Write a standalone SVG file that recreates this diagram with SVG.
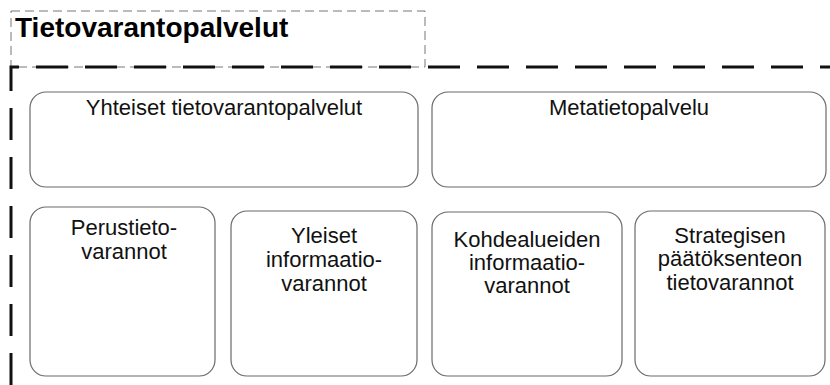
<svg xmlns="http://www.w3.org/2000/svg" width="830" height="385" viewBox="0 0 830 385">
<style>
.box{fill:#fff;stroke:#6a6a6a;stroke-width:1.2}
.t{font-family:"Liberation Sans",Arial,sans-serif;font-size:22px;fill:#111;text-anchor:middle}
.title{font-family:"Liberation Sans",Arial,sans-serif;font-size:28px;font-weight:bold;fill:#000}
</style>
<rect width="830" height="385" fill="#fff"/>
<g id="title">
<rect x="11" y="11" width="414" height="56" fill="none" stroke="#777" stroke-width="1" stroke-dasharray="9,5"/>
<text class="title" x="15" y="37">Tietovarantopalvelut</text>
</g>
<g id="boundary">
<polyline points="11,385 11,67 830,67" fill="none" stroke="#111" stroke-width="3" stroke-dasharray="32,17"/>
</g>
<g id="yhteiset">
<rect class="box" x="30" y="92" width="388" height="95" rx="16"/>
<text class="t" x="224" y="115">Yhteiset tietovarantopalvelut</text>
</g>
<g id="metatieto">
<rect class="box" x="432" y="92" width="394" height="95" rx="16"/>
<text class="t" x="629" y="115">Metatietopalvelu</text>
</g>
<g id="perustieto">
<rect class="box" x="30" y="207" width="185" height="169" rx="16"/>
<text class="t" x="124" y="235">Perustieto-</text>
<text class="t" x="124" y="259">varannot</text>
</g>
<g id="yleiset">
<rect class="box" x="231" y="211" width="186" height="165" rx="16"/>
<text class="t" x="324" y="243">Yleiset</text>
<text class="t" x="324" y="267">informaatio-</text>
<text class="t" x="324" y="291">varannot</text>
</g>
<g id="kohde">
<rect class="box" x="432" y="212" width="190" height="164" rx="16"/>
<text class="t" x="527" y="247">Kohdealueiden</text>
<text class="t" x="527" y="270">informaatio-</text>
<text class="t" x="527" y="293">varannot</text>
</g>
<g id="strategisen">
<rect class="box" x="635" y="211" width="190" height="165" rx="16"/>
<text class="t" x="730" y="243">Strategisen</text>
<text class="t" x="730" y="266">päätöksenteon</text>
<text class="t" x="730" y="290">tietovarannot</text>
</g>
<g id="connectors"></g>
</svg>
